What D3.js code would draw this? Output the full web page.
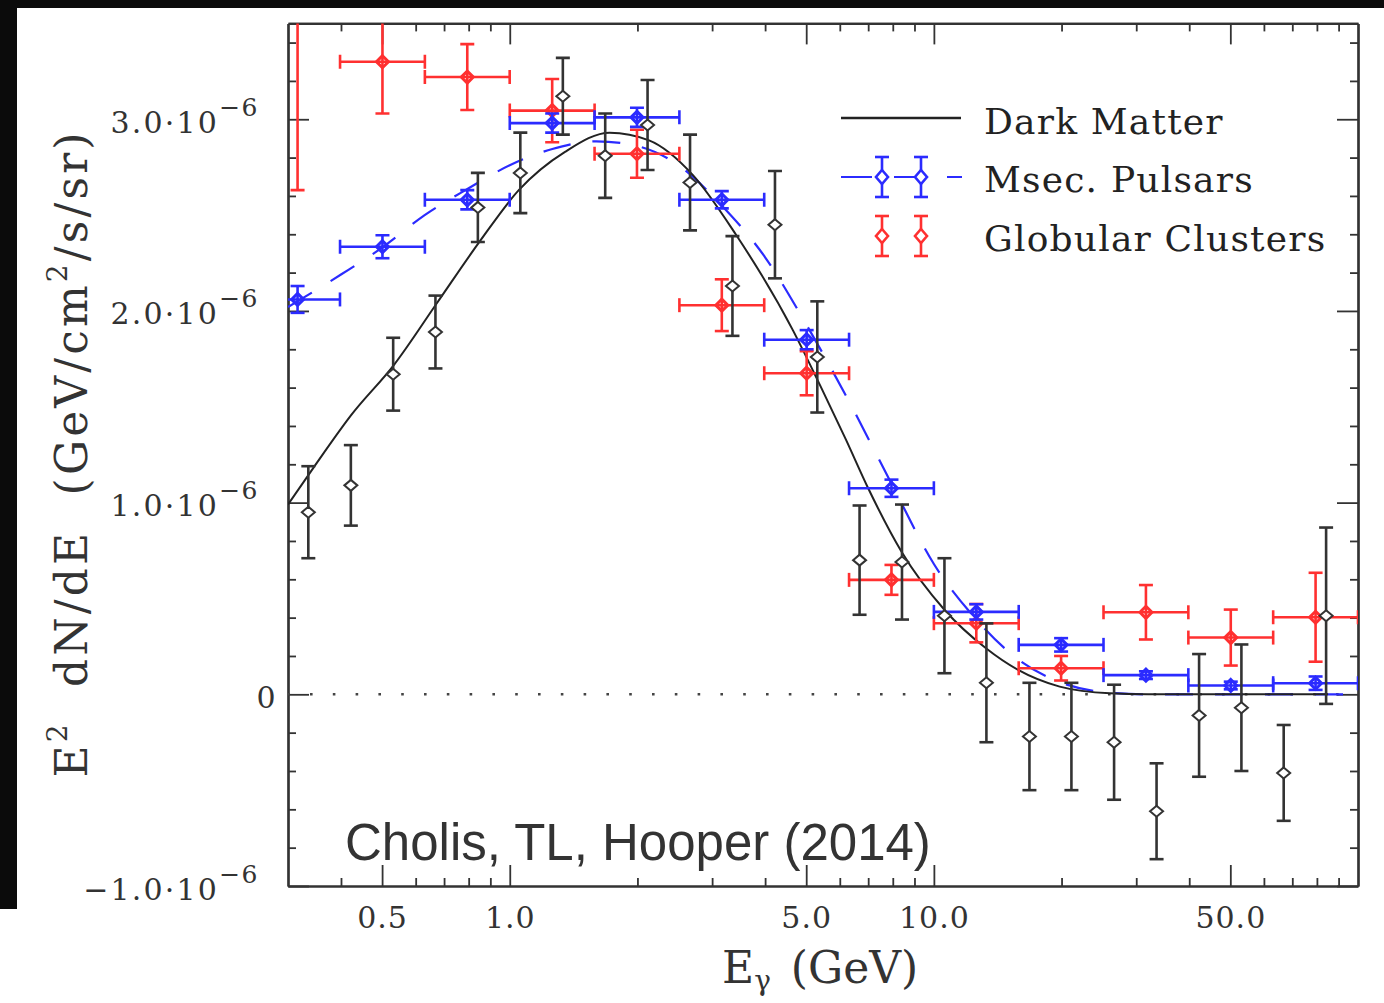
<!DOCTYPE html>
<html><head><meta charset="utf-8">
<script src="https://cdn.jsdelivr.net/npm/d3@7"></script>
<style>body{margin:0;background:#fff}svg{display:block}</style>
</head><body>
<svg id="chart" width="1384" height="1003"></svg>
<script>
// ---------------- data (values in units of 1e-6 GeV/cm^2/s/sr) ----------------
// Fermi residual spectrum (black points, vertical errors only)
const fermiE   = [0.335,0.422,0.531,0.668,0.841,1.059,1.334,1.679,2.113,2.661,3.35,4.22,5.31,6.68,8.41,10.59,13.3,16.8,21.1,26.6,33.5,42.2,53.1,66.8,84.1];
const fermiV   = [0.95,1.09,1.67,1.89,2.54,2.72,3.12,2.81,2.97,2.67,2.13,2.45,1.76,0.70,0.69,0.41,0.06,-0.22,-0.22,-0.25,-0.61,-0.11,-0.07,-0.41,0.41];
const fermiErr = [0.24,0.21,0.19,0.19,0.18,0.21,0.20,0.22,0.235,0.25,0.26,0.28,0.29,0.285,0.30,0.30,0.31,0.28,0.28,0.30,0.25,0.32,0.33,0.25,0.46];

// Binned points (0.2-decade bins) for millisecond pulsars and globular clusters
const binE     = [0.316,0.501,0.794,1.259,1.995,3.162,5.012,7.943,12.59,19.95,31.62,50.12,79.43];
const binHalfDex = 0.1;
const mspV     = [2.06,2.335,2.58,2.98,3.01,2.58,1.85,1.075,0.43,0.258,0.10,0.046,0.058];
const mspErr   = [0.07,0.06,0.05,0.05,0.05,0.045,0.05,0.045,0.04,0.035,0.02,0.02,0.035];
const gcV      = [4.30,3.30,3.22,3.045,2.82,2.03,1.675,0.597,0.371,0.136,0.428,0.296,0.402];
const gcErr    = [1.67,0.27,0.172,0.165,0.125,0.135,0.115,0.078,0.10,0.064,0.142,0.146,0.232];

// Model curves
const dmCurveE  = [0.3,0.344,0.424,0.534,0.673,0.848,1.05,1.35,1.72,2.13,2.70,3.41,4.65,5.41,6.2,7.0,8.39,10.6,13.27,15.8,19.8,26,32,85];
const dmCurveV  = [0.99,1.18,1.46,1.72,2.04,2.36,2.63,2.83,2.93,2.89,2.71,2.40,1.90,1.605,1.33,1.075,0.744,0.44,0.24,0.127,0.04,0.005,0,0];
const mspCurveE = [0.3,0.4,0.5,0.63,0.8,1.0,1.26,1.6,2.0,2.5,3.16,4.0,5.0,6.3,7.94,10.0,12.6,15.85,20,25,31.6,100];
const mspCurveV = [2.02,2.19,2.33,2.50,2.64,2.76,2.845,2.885,2.86,2.76,2.55,2.28,1.93,1.53,1.10,0.68,0.39,0.18,0.06,0.012,0,0];

// Axis ticks / labels
const xMajor = [0.5,1,5,10,50];
const xMinor = [0.4,0.6,0.7,0.8,0.9,2,3,4,6,7,8,9,20,30,40,60,70,80,90];
const xMajorLabels = ["0.5","1.0","5.0","10.0","50.0"];
const yMajor = [-1,0,1,2,3];
const yMinor = d3.range(-5,18).map(i=>Math.round(i*2)/10).filter(v=>!Number.isInteger(v));
const legendLabels = ["Dark Matter","Msec. Pulsars","Globular Clusters"];

// ---------------- layout ----------------
const svg = d3.select("#chart");
const L=288, R=1358, T=23.4, B=886;
const x = d3.scaleLog().domain([0.3,100]).range([L,R]);
const y = d3.scaleLinear().domain([-1,3.5]).range([B,T]);
const INK="#333", BLUE="#2b2bff", RED="#ff3030";
const serif = "'DejaVu Serif', serif";

svg.append("rect").attr("width",1384).attr("height",1003).attr("fill","#fff");
svg.append("defs").append("clipPath").attr("id","clip")
  .append("rect").attr("x",L).attr("y",T).attr("width",R-L).attr("height",B-T);

// axes
function styleAxis(g){
  g.select(".domain").attr("stroke",INK).attr("stroke-width",2.2);
  g.selectAll(".tick line").attr("stroke",INK).attr("stroke-width",1.8);
  g.selectAll("text").attr("font-family",serif).attr("fill",INK);
}
const gxb = svg.append("g").attr("transform",`translate(0,${B})`)
  .call(d3.axisBottom(x).tickValues(xMajor).tickSize(-21).tickSizeOuter(0)
    .tickFormat((d,i)=>xMajorLabels[i]));
gxb.selectAll(".tick text").attr("y",42).attr("dy",null).attr("font-size",30).attr("letter-spacing",1);
styleAxis(gxb);
styleAxis(svg.append("g").attr("transform",`translate(0,${B})`)
  .call(d3.axisBottom(x).tickValues(xMinor).tickSize(-8).tickSizeOuter(0).tickFormat("")));
styleAxis(svg.append("g").attr("transform",`translate(0,${T})`)
  .call(d3.axisTop(x).tickValues(xMajor).tickSize(-21).tickSizeOuter(0).tickFormat("")));
styleAxis(svg.append("g").attr("transform",`translate(0,${T})`)
  .call(d3.axisTop(x).tickValues(xMinor).tickSize(-8).tickSizeOuter(0).tickFormat("")));

const gyl = svg.append("g").attr("transform",`translate(${L},0)`)
  .call(d3.axisLeft(y).tickValues(yMajor).tickSize(-21).tickSizeOuter(0));
gyl.selectAll(".tick text").each(function(d){
  const t = d3.select(this).text(null).attr("dy",null).attr("y",13).attr("font-size",30);
  if (d===0){ t.attr("x",-22).attr("text-anchor","middle").text("0"); }
  else {
    t.attr("x",-29).attr("text-anchor","end");
    t.append("tspan").attr("letter-spacing",2.2).text((d<0?"\u2212":"")+Math.abs(d).toFixed(1)+"\u00b710");
    t.append("tspan").attr("dy",-17).attr("font-size",25).attr("letter-spacing",1.5).text("\u22126");
  }
});
styleAxis(gyl);
styleAxis(svg.append("g").attr("transform",`translate(${L},0)`)
  .call(d3.axisLeft(y).tickValues(yMinor).tickSize(-8).tickSizeOuter(0).tickFormat("")));
styleAxis(svg.append("g").attr("transform",`translate(${R},0)`)
  .call(d3.axisRight(y).tickValues(yMajor).tickSize(-21).tickSizeOuter(0).tickFormat("")));
styleAxis(svg.append("g").attr("transform",`translate(${R},0)`)
  .call(d3.axisRight(y).tickValues(yMinor).tickSize(-8).tickSizeOuter(0).tickFormat("")));

// axis titles
svg.append("text").attr("x",722).attr("y",983).attr("font-family",serif).attr("font-size",44).attr("fill",INK)
  .call(t=>{ t.append("tspan").text("E");
             t.append("tspan").attr("dy",7).attr("font-size",28).text("\u03b3");
             t.append("tspan").attr("dy",-7).attr("dx",20).text("(GeV)"); });
svg.append("text").attr("transform","translate(87,455) rotate(-90)").attr("text-anchor","middle")
  .attr("font-family",serif).attr("font-size",44).attr("fill",INK)
  .attr("textLength",645).attr("lengthAdjust","spacing")
  .call(t=>{ t.append("tspan").text("E");
             t.append("tspan").attr("dy",-20).attr("font-size",28).text("2");
             t.append("tspan").attr("dy",20).text("\u00a0\u00a0dN/dE\u00a0\u00a0(GeV/cm");
             t.append("tspan").attr("dy",-20).attr("font-size",28).text("2");
             t.append("tspan").attr("dy",20).text("/s/sr)"); });

// plot contents
const plot = svg.append("g").attr("clip-path","url(#clip)");
plot.append("line").attr("x1",L).attr("x2",R).attr("y1",y(0)).attr("y2",y(0))
  .attr("stroke","#444").attr("stroke-width",2.6).attr("stroke-dasharray","2.6,20.2").attr("stroke-dashoffset",-22);

const line = d3.line().x(d=>x(d[0])).y(d=>y(d[1])).curve(d3.curveMonotoneX);
plot.append("path").datum(mspCurveE.map((e,i)=>[e,mspCurveV[i]])).attr("d",line)
  .attr("fill","none").attr("stroke",BLUE).attr("stroke-width",2.2).attr("stroke-dasharray","28,22");
plot.append("path").datum(dmCurveE.map((e,i)=>[e,dmCurveV[i]])).attr("d",line)
  .attr("fill","none").attr("stroke","#222").attr("stroke-width",2);

const diamond = (w,h)=>`M0,${-h}L${w},0L0,${h}L${-w},0Z`;
const CAP=7;
function drawBinned(vals, errs, color){
  const g = plot.append("g").attr("stroke",color).attr("stroke-width",2.6).attr("fill","none");
  binE.forEach((e,i)=>{
    const cx=x(e), cy=y(vals[i]), x0=x(e/Math.pow(10,binHalfDex)), x1=x(e*Math.pow(10,binHalfDex));
    const y0=y(vals[i]-errs[i]), y1=y(vals[i]+errs[i]);
    g.append("line").attr("x1",x0).attr("x2",x1).attr("y1",cy).attr("y2",cy);
    g.append("line").attr("x1",x0).attr("x2",x0).attr("y1",cy-CAP).attr("y2",cy+CAP);
    g.append("line").attr("x1",x1).attr("x2",x1).attr("y1",cy-CAP).attr("y2",cy+CAP);
    g.append("line").attr("x1",cx).attr("x2",cx).attr("y1",y0).attr("y2",y1);
    g.append("line").attr("x1",cx-CAP).attr("x2",cx+CAP).attr("y1",y0).attr("y2",y0);
    g.append("line").attr("x1",cx-CAP).attr("x2",cx+CAP).attr("y1",y1).attr("y2",y1);
    g.append("path").attr("d",diamond(6,6)).attr("transform",`translate(${cx},${cy})`).attr("stroke-width",3);
  });
}
drawBinned(gcV, gcErr, RED);
drawBinned(mspV, mspErr, BLUE);

const gf = plot.append("g").attr("stroke",INK).attr("stroke-width",2.6).attr("fill","none");
fermiE.forEach((e,i)=>{
  const cx=x(e), cy=y(fermiV[i]), y0=y(fermiV[i]-fermiErr[i]), y1=y(fermiV[i]+fermiErr[i]);
  gf.append("line").attr("x1",cx).attr("x2",cx).attr("y1",y0).attr("y2",y1);
  gf.append("line").attr("x1",cx-CAP).attr("x2",cx+CAP).attr("y1",y0).attr("y2",y0);
  gf.append("line").attr("x1",cx-CAP).attr("x2",cx+CAP).attr("y1",y1).attr("y2",y1);
  gf.append("path").attr("d",diamond(6.5,5.5)).attr("transform",`translate(${cx},${cy})`)
    .attr("fill","#fff").attr("stroke-width",2);
});

// legend
const lg = svg.append("g");
lg.append("line").attr("x1",841).attr("x2",961).attr("y1",118).attr("y2",118).attr("stroke","#222").attr("stroke-width",2.6);
lg.append("line").attr("x1",841).attr("x2",962).attr("y1",177).attr("y2",177).attr("stroke",BLUE).attr("stroke-width",2.2).attr("stroke-dasharray","31,22");
function legendMarker(cx, cy, color){
  const g = lg.append("g").attr("stroke",color).attr("stroke-width",2.6).attr("fill","none");
  g.append("line").attr("x1",cx).attr("x2",cx).attr("y1",cy-20).attr("y2",cy+20);
  g.append("line").attr("x1",cx-CAP).attr("x2",cx+CAP).attr("y1",cy-20).attr("y2",cy-20);
  g.append("line").attr("x1",cx-CAP).attr("x2",cx+CAP).attr("y1",cy+20).attr("y2",cy+20);
  g.append("path").attr("d",diamond(6,7)).attr("transform",`translate(${cx},${cy})`).attr("fill","#fff");
}
[882,921].forEach(cx=>{ legendMarker(cx,177,BLUE); legendMarker(cx,236,RED); });
legendLabels.forEach((s,i)=>{
  lg.append("text").attr("x",984).attr("y",[134,192,251][i]).attr("font-family",serif)
    .attr("font-size",36).attr("letter-spacing",1.2).attr("fill","#222").text(s);
});

// annotation
svg.append("text").attr("x",345).attr("y",860).attr("font-family","'Liberation Sans', Arial, sans-serif")
  .attr("font-size",51).attr("fill","#333").text("Cholis, TL, Hooper (2014)");

// black frame edges of the screenshot
svg.append("rect").attr("x",0).attr("y",0).attr("width",1384).attr("height",8).attr("fill","#0b0b0b");
svg.append("rect").attr("x",0).attr("y",0).attr("width",17).attr("height",909).attr("fill","#0b0b0b");
</script>
</body></html>
